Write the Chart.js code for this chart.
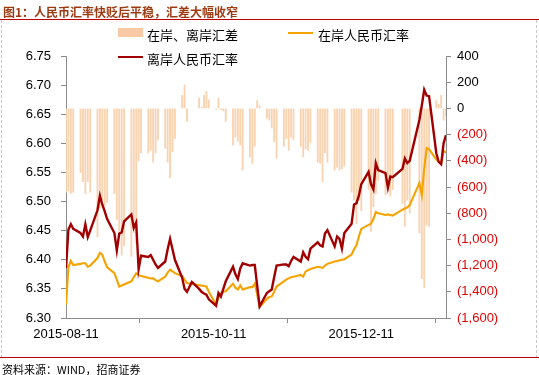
<!DOCTYPE html>
<html><head><meta charset="utf-8">
<script src="https://cdn.jsdelivr.net/npm/chart.js@4.4.0/dist/chart.umd.min.js"></script>
<style>
html,body{margin:0;padding:0;background:#fff;}
#wrap{position:relative;width:539px;height:375px;overflow:hidden;background:#fff;}
canvas{position:absolute;left:0;top:0;}
.t{position:absolute;white-space:nowrap;line-height:1;}
.lg{font:13px "Noto Sans CJK SC","Noto Sans",sans-serif;color:#000;}
</style></head><body>
<div id="wrap">
<canvas id="c" width="539" height="375"></canvas>
<div class="t" style="left:3px;top:3px;font:bold 12px 'Noto Sans CJK SC',sans-serif;color:#9C3B12;">图1：人民币汇率快贬后平稳，汇差大幅收窄</div>
<div style="position:absolute;left:0;top:19px;width:539px;height:1px;background:#C00000;"></div>
<div style="position:absolute;left:1px;top:20px;width:0;height:338px;border-left:1px dashed #c8c8c8;"></div>
<div style="position:absolute;left:536px;top:20px;width:0;height:338px;border-left:1px dashed #c8c8c8;"></div>
<div style="position:absolute;left:0;top:357px;width:539px;height:1px;background:#C00000;"></div>
<div class="t" style="left:2px;top:361px;font:11px 'Noto Sans CJK SC',sans-serif;color:#000;">资料来源：WIND，招商证券</div>
<div style="position:absolute;left:118px;top:28px;width:25px;height:9px;background:#F8C9A4;"></div>
<div class="t lg" style="left:147px;top:25px;">在岸、离岸汇差</div>
<div style="position:absolute;left:288px;top:32px;width:25px;height:2px;background:#F5A300;"></div>
<div class="t lg" style="left:318px;top:25px;">在岸人民币汇率</div>
<div style="position:absolute;left:118px;top:56px;width:25px;height:2px;background:#A00000;"></div>
<div class="t lg" style="left:147px;top:49px;">离岸人民币汇率</div>
</div>
<script>
const dates = [
'2015-08-11','2015-08-12','2015-08-13','2015-08-14',
'2015-08-17','2015-08-18','2015-08-19','2015-08-20','2015-08-21',
'2015-08-24','2015-08-25','2015-08-26','2015-08-27','2015-08-28',
'2015-08-31','2015-09-01','2015-09-02','2015-09-03','2015-09-04',
'2015-09-07','2015-09-08','2015-09-09','2015-09-10','2015-09-11',
'2015-09-14','2015-09-15','2015-09-16','2015-09-17','2015-09-18',
'2015-09-21','2015-09-22','2015-09-23','2015-09-24','2015-09-25',
'2015-09-28','2015-09-29','2015-09-30','2015-10-02',
'2015-10-05','2015-10-06','2015-10-07','2015-10-08','2015-10-09',
'2015-10-12','2015-10-13','2015-10-14','2015-10-15','2015-10-16',
'2015-10-19','2015-10-20','2015-10-21','2015-10-22','2015-10-23',
'2015-10-26','2015-10-27','2015-10-28','2015-10-29','2015-10-30',
'2015-11-02','2015-11-03','2015-11-04','2015-11-05','2015-11-06',
'2015-11-09','2015-11-10','2015-11-11','2015-11-12','2015-11-13',
'2015-11-16','2015-11-17','2015-11-18','2015-11-19','2015-11-20',
'2015-11-23','2015-11-24','2015-11-25','2015-11-26','2015-11-27',
'2015-11-30','2015-12-01','2015-12-02','2015-12-03','2015-12-04',
'2015-12-07','2015-12-08','2015-12-09','2015-12-10','2015-12-11',
'2015-12-14','2015-12-15','2015-12-16','2015-12-17','2015-12-18',
'2015-12-21','2015-12-22','2015-12-23','2015-12-24',
'2015-12-28','2015-12-29','2015-12-30','2015-12-31',
'2016-01-04','2016-01-05','2016-01-06','2016-01-07','2016-01-08',
'2016-01-11','2016-01-12','2016-01-13','2016-01-14','2016-01-15'
];
const onshore = [
6.323,6.387,6.398,6.391,
6.393,6.394,6.394,6.388,6.390,
6.403,6.412,6.409,6.397,6.387,
6.377,6.366,6.354,null,null,
6.363,6.370,6.377,6.374,6.372,
6.369,6.368,6.368,6.365,6.363,
6.371,6.378,6.383,6.380,6.377,
6.372,6.366,6.360,null,
null,null,null,6.354,6.345,
6.323,6.335,6.342,6.345,6.346,
6.359,6.352,6.349,6.356,6.349,
6.353,6.353,6.359,6.340,6.319,
6.333,6.336,6.337,6.345,6.354,
6.363,6.366,6.368,6.370,6.371,
6.374,6.371,6.380,6.382,6.384,
6.388,6.387,6.386,6.390,6.393,
6.397,6.398,6.399,6.400,6.401,
6.409,6.418,6.425,6.440,6.453,
6.460,6.462,6.470,6.482,6.480,
6.477,6.478,6.477,6.476,
6.486,6.488,6.490,6.494,
6.532,6.511,6.556,6.592,6.590,
6.572,6.568,6.566,6.587,6.584
];
const offshore = [
6.386,6.452,6.461,6.453,
6.446,6.440,6.461,6.439,6.450,
6.485,6.510,6.495,6.483,6.470,
6.446,6.416,6.445,6.447,6.466,
6.478,6.455,6.464,6.384,6.407,
6.405,6.408,6.400,6.392,6.386,
6.397,6.418,6.436,6.418,6.400,
6.369,6.350,6.345,6.362,
6.350,6.345,6.342,6.340,6.332,
6.321,6.343,6.337,6.350,6.363,
6.388,6.375,6.367,6.385,6.394,
6.390,6.391,6.391,6.355,6.320,
6.343,6.346,6.349,6.370,6.390,
6.392,6.392,6.389,6.398,6.405,
6.397,6.413,6.405,6.401,6.419,
6.430,6.425,6.423,6.445,6.451,
6.423,6.440,6.436,6.419,6.446,
6.462,6.495,6.497,6.510,6.530,
6.551,6.530,6.521,6.566,6.554,
6.549,6.524,6.543,6.542,
6.556,6.574,6.566,6.570,
6.640,6.665,6.692,6.682,6.681,
6.583,6.568,6.564,6.600,6.614
];
const spread = [
-640,-630,-650,-640,
-490,-560,-650,-560,-640,
-980,-760,-700,-740,-720,
-650,-850,-940,-1120,-1050,
-1130,-950,-1030,-400,-340,
-340,-320,-410,-340,-240,
-305,-410,-530,-330,-230,
100,180,-100,null,
80,10,100,130,65,
-10,80,-10,-20,-100,
-280,-220,-250,-280,-470,
-370,-420,-290,60,20,
-75,-90,-150,-255,-380,
-290,-230,-320,-220,-240,
-290,-370,-310,-320,-260,
-410,-420,-560,-340,-410,
-470,-450,-470,-460,-440,
-640,-700,-880,-700,-780,
-620,-940,-750,-650,-550,
-660,-570,-670,-620,
-725,-900,-700,-800,
-950,-1300,-1370,-890,-900,
60,30,100,-90,-60
];
const tickLabels = ['2015-08-11','2015-10-11','2015-12-11'];

const dayOf = s => { const [y,m,d] = s.split('-').map(Number); return (Date.UTC(y,m-1,d) - Date.UTC(2015,7,11)) / 86400000; };
const xs = dates.map(dayOf);
const tickPos = tickLabels.map(dayOf);
const pts = arr => arr.map((v,i) => ({x: xs[i], y: v}));

const fontTick = {family: "'Liberation Sans', Arial, sans-serif", size: 13};
const axisColor = '#8c8c8c';

new Chart(document.getElementById('c'), {
  type: 'bar',
  data: {
    datasets: [
      {type:'line', label:'离岸人民币汇率', data: pts(offshore), yAxisID:'y', borderColor:'#A00000', borderWidth:2.4, pointRadius:0, tension:0, spanGaps:true, order:0},
      {type:'line', label:'在岸人民币汇率', data: pts(onshore), yAxisID:'y', borderColor:'#F5A300', borderWidth:2.1, pointRadius:0, tension:0, spanGaps:true, order:1},
      {type:'bar', label:'在岸、离岸汇差', data: pts(spread), yAxisID:'y2', backgroundColor:'#F9D2B0', barThickness:1.2, order:2}
    ]
  },
  options: {
    responsive:false, animation:false, devicePixelRatio:1,
    layout:{padding:{top:56,left:0,right:0,bottom:0}},
    plugins:{legend:{display:false}, tooltip:{enabled:false}},
    scales:{
      x:{type:'linear', min:0, max:157, offset:false,
        afterBuildTicks: a => { a.ticks = tickPos.map(v => ({value:v})); },
        afterFit: s => { s.height = 57; },
        grid:{drawOnChartArea:false, tickLength:5, color:axisColor},
        border:{color:axisColor},
        ticks:{autoSkip:false, maxRotation:0, padding:4, color:'#000', font:fontTick,
          callback: v => { const i = tickPos.indexOf(v); return i >= 0 ? tickLabels[i] : ''; }}
      },
      y:{position:'left', min:6.30, max:6.75,
        afterBuildTicks: a => { const t=[]; for(let k=0;k<=9;k++) t.push({value: +(6.30+k*0.05).toFixed(2)}); a.ticks=t; },
        afterFit: s => { s.width = 66; },
        grid:{drawOnChartArea:false, tickLength:5, color:axisColor},
        border:{color:axisColor},
        ticks:{padding:10, color:'#000', font:fontTick, callback: v => Number(v).toFixed(2)}
      },
      y2:{position:'right', min:-1600, max:400,
        afterBuildTicks: a => { const t=[]; for(let v=-1600; v<=400; v+=200) t.push({value:v}); a.ticks=t; },
        afterFit: s => { s.width = 93; },
        grid:{drawOnChartArea:false, tickLength:5, color:axisColor},
        border:{color:axisColor},
        ticks:{padding:6, font:fontTick,
          color: c => (c.tick && c.tick.value < 0) ? '#E00000' : '#000',
          callback: v => v < 0 ? '(' + Math.abs(v).toLocaleString('en-US') + ')' : v.toLocaleString('en-US')}
      }
    }
  }
});
</script>
</body></html>
